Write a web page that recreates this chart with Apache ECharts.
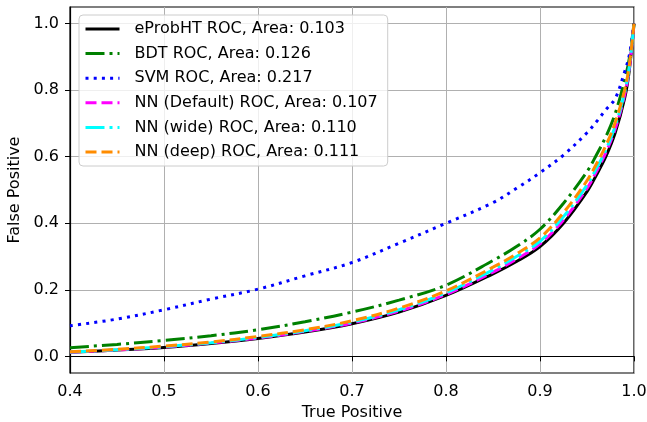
<!DOCTYPE html>
<html>
<head>
<meta charset="utf-8">
<script src="https://cdn.jsdelivr.net/npm/echarts@6/dist/echarts.min.js"></script>
<style>html,body{margin:0;padding:0;background:#fff}#c{width:647px;height:422px}</style>
</head>
<body>
<div id="c"></div>
<script>
var xValues = [0.40,0.45,0.50,0.55,0.60,0.65,0.70,0.75,0.80,0.85,0.875,0.90,0.925,0.95,0.96,0.97,0.98,0.99,0.995,1.0];
var eProbHT = [0.012,0.019,0.027,0.039,0.054,0.073,0.098,0.133,0.183,0.248,0.285,0.330,0.400,0.495,0.545,0.600,0.672,0.775,0.860,1.0];
var bdt     = [0.026,0.036,0.048,0.062,0.080,0.104,0.133,0.169,0.214,0.288,0.330,0.382,0.460,0.555,0.605,0.660,0.730,0.830,0.895,1.0];
var svm     = [0.092,0.112,0.140,0.172,0.202,0.242,0.282,0.340,0.400,0.462,0.505,0.552,0.605,0.672,0.705,0.741,0.775,0.855,0.905,1.0];
var nnDefault = [0.012,0.019,0.028,0.040,0.055,0.075,0.100,0.136,0.186,0.253,0.292,0.338,0.410,0.505,0.555,0.612,0.683,0.785,0.865,1.0];
var nnWide  = [0.013,0.020,0.029,0.041,0.057,0.077,0.103,0.140,0.191,0.260,0.300,0.346,0.420,0.515,0.565,0.620,0.692,0.792,0.870,1.0];
var nnDeep  = [0.014,0.021,0.031,0.043,0.060,0.080,0.107,0.145,0.197,0.268,0.308,0.356,0.432,0.528,0.578,0.633,0.703,0.800,0.875,1.0];
var seriesNames = ['eProbHT ROC, Area: 0.103','BDT ROC, Area: 0.126','SVM ROC, Area: 0.217','NN (Default) ROC, Area: 0.107','NN (wide) ROC, Area: 0.110','NN (deep) ROC, Area: 0.111'];
var yTicks = [0.0,0.2,0.4,0.6,0.8,1.0];

function pairs(ys){ return xValues.map(function(x,i){ return [x, ys[i]]; }); }
var styles = [
  {color:'#000000', type:'solid'},
  {color:'#008000', type:[19,5,3,5]},
  {color:'#0000ff', type:[3,5.2]},
  {color:'#ff00ff', type:[11,5]},
  {color:'#00ffff', type:[19,5,3,5]},
  {color:'#ff8c00', type:[11,5]}
];
var datas = [eProbHT, bdt, svm, nnDefault, nnWide, nnDeep];
var series = datas.map(function(d,i){
  return {
    name: seriesNames[i], type:'line', data: pairs(d), showSymbol:false, symbol:'none',
    smooth: 0.35,
    itemStyle:{color: styles[i].color},
    lineStyle:{color: styles[i].color, width:3, type: styles[i].type},
    animation:false
  };
});
var font = 'DejaVu Sans';
var chart = echarts.init(document.getElementById('c'), null, {renderer:'canvas'});
chart.setOption({
  animation:false,
  grid:{left:70, right:13, top:7, bottom:49, show:true, borderColor:'#000', borderWidth:1.2, backgroundColor:'transparent', containLabel:false, outerBoundsMode:'none'},
  legend:{
    orient:'vertical', left:79, top:15, padding:[6,10,6,5], itemGap:8.6, itemWidth:34, itemHeight:16,
    backgroundColor:'rgba(255,255,255,0.8)', borderColor:'#cccccc', borderWidth:1, borderRadius:4,
    itemStyle:{opacity:0},
    lineStyle:{width:3},
    textStyle:{fontFamily:font, fontSize:16, color:'#000', lineHeight:16, padding:[0,0,0,10]},
    data: seriesNames
  },
  xAxis:{
    type:'value', min:0.4, max:1.0, interval:0.1,
    name:'True Positive', nameLocation:'middle', nameGap:32,
    nameTextStyle:{fontFamily:font, fontSize:16, color:'#000'},
    axisLine:{show:true, lineStyle:{color:'#000', width:1.2}},
    axisTick:{show:true, length:5, lineStyle:{color:'#000'}},
    axisLabel:{fontFamily:font, fontSize:16, color:'#000', margin:11, formatter:function(v){return v.toFixed(1);}},
    splitLine:{show:true, lineStyle:{color:'#b0b0b0', width:1}}
  },
  yAxis:{
    type:'value', min:-0.05, max:1.05, interval:0.2,
    name:'False Positive', nameLocation:'middle', nameGap:46,
    nameTextStyle:{fontFamily:font, fontSize:16, color:'#000'},
    axisLine:{show:true, lineStyle:{color:'#000', width:1.2}},
    axisTick:{show:true, length:5, lineStyle:{color:'#000'}, customValues: yTicks},
    axisLabel:{fontFamily:font, fontSize:16, color:'#000', margin:11, customValues: yTicks, formatter:function(v){return v.toFixed(1);}},
    splitLine:{show:true, lineStyle:{color:'#b0b0b0', width:1}}
  },
  series: series
});
</script>
</body>
</html>
